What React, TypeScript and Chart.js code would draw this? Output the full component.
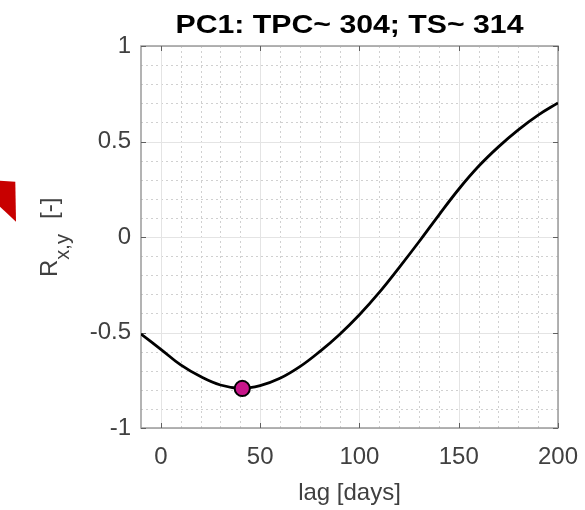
import React, { useEffect, useRef } from "react";
import { Chart, registerables } from "chart.js";

Chart.register(...registerables);

// ---- data ----
const lagDays = [-10, 0, 10, 20, 30, 40, 50, 60, 70, 80, 90, 100, 110, 120, 130, 140, 150, 160, 170, 180, 190, 200];
const corrR = [-0.508, -0.588, -0.67, -0.731, -0.775, -0.792, -0.778, -0.74, -0.679, -0.6, -0.51, -0.407, -0.29, -0.16, -0.025, 0.115, 0.25, 0.37, 0.472, 0.561, 0.638, 0.702];
const peakLag = [41];
const peakR = [-0.793];

const xTickValues = [0, 50, 100, 150, 200];
const yTickValues = [-1, -0.5, 0, 0.5, 1];
const xMinorValues = [10, 20, 30, 40, 60, 70, 80, 90, 110, 120, 130, 140, 160, 170, 180, 190];
const yMinorValues = [-0.9, -0.8, -0.7, -0.6, -0.4, -0.3, -0.2, -0.1, 0.1, 0.2, 0.3, 0.4, 0.6, 0.7, 0.8, 0.9];
const xTickLabels = ["0", "50", "100", "150", "200"];
const yTickLabels = ["-1", "-0.5", "0", "0.5", "1"];

const titleText = "PC1: TPC~ 304; TS~ 314";
const xAxisLabel = "lag [days]";
const yAxisMain = "R";
const yAxisSub = "x,y";
const yAxisUnit = "[-]";

const FONT = "'Liberation Sans', Arial, Helvetica, sans-serif";
const TEXT_COLOR = "#404040";

const axesPlugin = {
  id: "matlabAxes",
  beforeDatasetsDraw(chart: any) {
    const { ctx, chartArea: a, scales } = chart;
    const x = scales.x;
    const y = scales.y;
    ctx.save();
    ctx.lineWidth = 1;
    // minor grid (dotted)
    ctx.strokeStyle = "#d0d0d0";
    ctx.setLineDash([2, 3]);
    ctx.beginPath();
    for (const v of xMinorValues) {
      const px = Math.round(x.getPixelForValue(v)) + 0.5;
      ctx.moveTo(px, a.top);
      ctx.lineTo(px, a.bottom);
    }
    for (const v of yMinorValues) {
      const py = Math.round(y.getPixelForValue(v)) + 0.5;
      ctx.moveTo(a.left, py);
      ctx.lineTo(a.right, py);
    }
    ctx.stroke();
    // major grid (solid light)
    ctx.setLineDash([]);
    ctx.strokeStyle = "#e4e4e4";
    ctx.beginPath();
    for (const v of xTickValues) {
      const px = Math.round(x.getPixelForValue(v)) + 0.5;
      ctx.moveTo(px, a.top);
      ctx.lineTo(px, a.bottom);
    }
    for (const v of yTickValues) {
      const py = Math.round(y.getPixelForValue(v)) + 0.5;
      ctx.moveTo(a.left, py);
      ctx.lineTo(a.right, py);
    }
    ctx.stroke();
    // box
    ctx.strokeStyle = "#9a9a9a";
    ctx.lineWidth = 1.5;
    ctx.strokeRect(a.left, a.top, a.right - a.left, a.bottom - a.top);
    // inward ticks on all four sides
    ctx.strokeStyle = "#606060";
    ctx.lineWidth = 1;
    const tl = 5;
    ctx.beginPath();
    for (const v of xTickValues) {
      const px = Math.round(x.getPixelForValue(v)) + 0.5;
      ctx.moveTo(px, a.bottom);
      ctx.lineTo(px, a.bottom - tl);
      ctx.moveTo(px, a.top);
      ctx.lineTo(px, a.top + tl);
    }
    for (const v of yTickValues) {
      const py = Math.round(y.getPixelForValue(v)) + 0.5;
      ctx.moveTo(a.left, py);
      ctx.lineTo(a.left + tl, py);
      ctx.moveTo(a.right, py);
      ctx.lineTo(a.right - tl, py);
    }
    ctx.stroke();
    ctx.restore();
  },
  afterDraw(chart: any) {
    const { ctx, chartArea: a } = chart;
    ctx.save();
    const cx = (a.left + a.right) / 2;
    const cy = (a.top + a.bottom) / 2;

    // title (bold, stretched to reference width)
    ctx.font = `bold 26px ${FONT}`;
    ctx.fillStyle = "#000000";
    ctx.textBaseline = "alphabetic";
    ctx.textAlign = "center";
    const w = ctx.measureText(titleText).width;
    const sx = 348 / w;
    ctx.save();
    ctx.translate(cx, a.top - 13);
    ctx.scale(sx, 1);
    ctx.fillText(titleText, 0, 0);
    ctx.restore();

    // x axis label
    ctx.font = `24px ${FONT}`;
    ctx.fillStyle = TEXT_COLOR;
    ctx.textAlign = "center";
    ctx.fillText(xAxisLabel, cx, a.bottom + 72);

    // y axis label with subscript
    ctx.save();
    ctx.translate(a.left - 84, cy + 40);
    ctx.rotate(-Math.PI / 2);
    ctx.textAlign = "left";
    ctx.font = `24px ${FONT}`;
    ctx.fillText(yAxisMain, 0, 0);
    const rW = ctx.measureText(yAxisMain).width;
    ctx.font = `20px ${FONT}`;
    ctx.fillText(yAxisSub, rW, 12);
    ctx.font = `24px ${FONT}`;
    ctx.fillText(yAxisUnit, 58, 0);
    ctx.restore();

    // red arrow head (partially cut off at the left edge)
    ctx.fillStyle = "#c80000";
    ctx.beginPath();
    ctx.moveTo(0, 180.7);
    ctx.lineTo(15.3, 181.7);
    ctx.lineTo(16, 221.7);
    ctx.lineTo(0, 206.7);
    ctx.closePath();
    ctx.fill();
    ctx.restore();
  },
};

export default function App() {
  const canvasRef = useRef<HTMLCanvasElement | null>(null);

  useEffect(() => {
    const canvas = canvasRef.current;
    if (!canvas) return;
    const chart = new Chart(canvas, {
      type: "scatter",
      data: {
        datasets: [
          {
            type: "scatter",
            label: "peak",
            data: peakLag.map((v, i) => ({ x: v, y: peakR[i] })),
            pointRadius: 7.6,
            pointBackgroundColor: "#c8168a",
            pointBorderColor: "#000000",
            pointBorderWidth: 2,
            showLine: false,
            order: 0,
          },
          {
            type: "line",
            label: "R",
            data: lagDays.map((v, i) => ({ x: v, y: corrR[i] })),
            borderColor: "#000000",
            borderWidth: 2.8,
            pointRadius: 0,
            fill: false,
            tension: 0.4,
            order: 1,
          },
        ],
      } as any,
      options: {
        animation: false,
        responsive: false,
        devicePixelRatio: 1,
        layout: { padding: { left: 0, right: 27, top: 46, bottom: 0 } },
        plugins: {
          legend: { display: false },
          title: { display: false },
          tooltip: { enabled: false },
        },
        events: [],
        scales: {
          x: {
            type: "linear",
            position: "bottom",
            min: -10,
            max: 200,
            afterBuildTicks: (s: any) => {
              s.ticks = xTickValues.map((v) => ({ value: v }));
            },
            afterFit: (s: any) => {
              s.height = 82;
              s.paddingLeft = 0;
              s.paddingRight = 0;
            },
            grid: { display: false, drawTicks: false },
            border: { display: false },
            ticks: {
              padding: 15,
              maxRotation: 0,
              autoSkip: false,
              color: TEXT_COLOR,
              font: { family: FONT, size: 24 },
              callback: (v: any) => {
                const i = xTickValues.indexOf(Number(v));
                return i >= 0 ? xTickLabels[i] : "";
              },
            },
          },
          y: {
            type: "linear",
            min: -1,
            max: 1,
            afterBuildTicks: (s: any) => {
              s.ticks = yTickValues.map((v) => ({ value: v }));
            },
            afterFit: (s: any) => {
              s.width = 141;
              s.paddingTop = 0;
              s.paddingBottom = 0;
            },
            grid: { display: false, drawTicks: false },
            border: { display: false },
            ticks: {
              padding: 10,
              autoSkip: false,
              color: TEXT_COLOR,
              font: { family: FONT, size: 24 },
              callback: (v: any) => {
                const i = yTickValues.indexOf(Number(v));
                return i >= 0 ? yTickLabels[i] : "";
              },
            },
          },
        },
      } as any,
      plugins: [axesPlugin],
    });
    return () => chart.destroy();
  }, []);

  return (
    <div style={{ position: "absolute", left: 0, top: 0, width: 585, height: 510, background: "#ffffff" }}>
      <canvas ref={canvasRef} width={585} height={510} style={{ display: "block" }} />
    </div>
  );
}
